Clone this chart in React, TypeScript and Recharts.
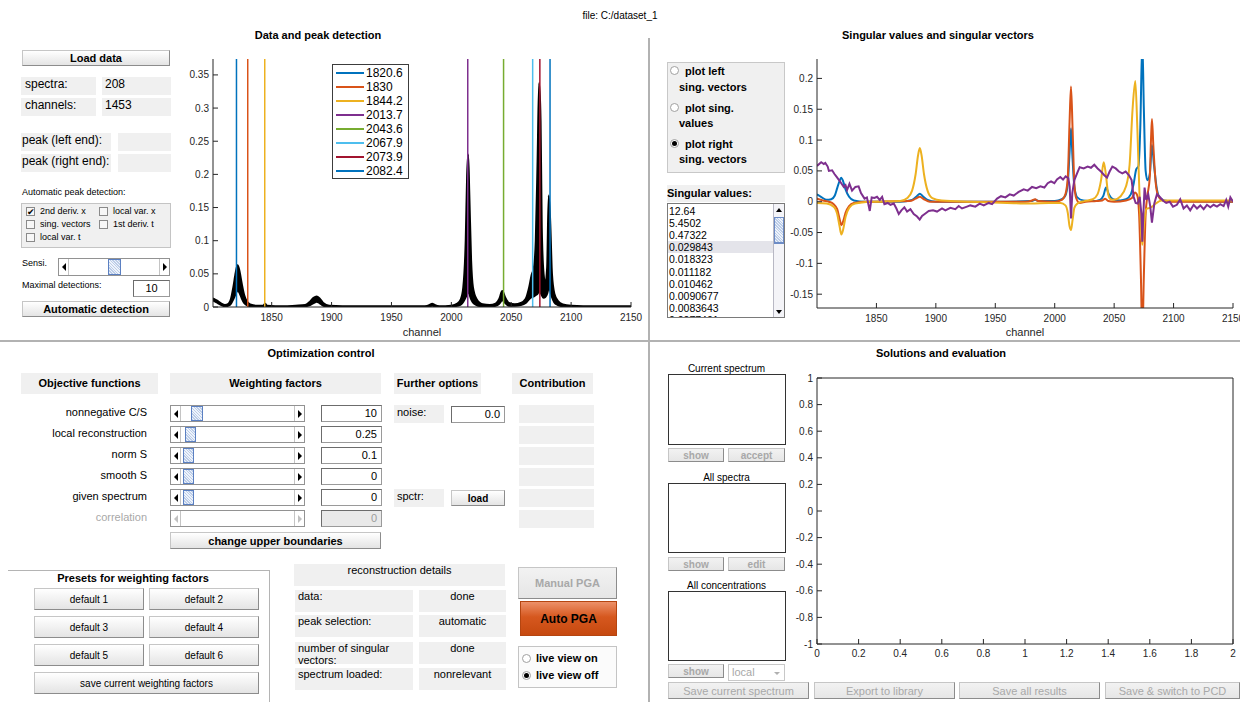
import React from "react";
import { ComposedChart, LineChart, Line, Area, XAxis, YAxis, Legend } from "recharts";

const FONT = '"Liberation Sans", Arial, Helvetica, sans-serif';
const AX = "#262626";

// ---------- Data and peak detection ----------
const channelTicks = [1850, 1900, 1950, 2000, 2050, 2100, 2150];
const intensityTicks = [0, 0.05, 0.1, 0.15, 0.2, 0.25, 0.3, 0.35];
const intensityMax = 0.374;
// [channel, lowest spectrum, highest spectrum]
const spectrumBand: [number, number, number][] = [
  [1801, 0.01, 0.013], [1804, 0.007, 0.01], [1808, 0.003, 0.005], [1811, 0.001, 0.003], [1814, 0.002, 0.005],
  [1816, 0.005, 0.012], [1818, 0.012, 0.03], [1820, 0.02, 0.052], [1821.5, 0.025, 0.063], [1823, 0.022, 0.055],
  [1825, 0.013, 0.035], [1827, 0.006, 0.018], [1829, 0.003, 0.009], [1832, 0.001, 0.004], [1838, 0, 0.002],
  [1843, 0, 0.002], [1844.5, 0.002, 0.005], [1846, 0, 0.002], [1860, 0, 0.001], [1870, 0, 0.002],
  [1878, 0.001, 0.003], [1882, 0.003, 0.008], [1885, 0.006, 0.014], [1887.5, 0.008, 0.016], [1890, 0.006, 0.013],
  [1893, 0.002, 0.006], [1898, 0, 0.002], [1920, 0, 0.001], [1950, 0, 0.001], [1978, 0, 0.001],
  [1982, 0.001, 0.003], [1984, 0.002, 0.005], [1986, 0.001, 0.003], [1990, 0, 0.001], [2000, 0, 0.002],
  [2005, 0.002, 0.005], [2008, 0.004, 0.012], [2010, 0.008, 0.03], [2012, 0.015, 0.1], [2013.2, 0.02, 0.2],
  [2014, 0.025, 0.23], [2015, 0.02, 0.17], [2016.5, 0.012, 0.07], [2018, 0.007, 0.03], [2021, 0.003, 0.012],
  [2026, 0.001, 0.004], [2032, 0.001, 0.003], [2037, 0.002, 0.005], [2040, 0.005, 0.012], [2042.5, 0.01, 0.024],
  [2045, 0.006, 0.014], [2048, 0.002, 0.006], [2053, 0.002, 0.004], [2058, 0.003, 0.006], [2062, 0.006, 0.012],
  [2065, 0.012, 0.03], [2067, 0.015, 0.048], [2069, 0.016, 0.06], [2070.5, 0.018, 0.1], [2072, 0.02, 0.22],
  [2073.3, 0.025, 0.338], [2074.5, 0.022, 0.28], [2075.5, 0.018, 0.12], [2077, 0.014, 0.05], [2078.5, 0.015, 0.035],
  [2080, 0.02, 0.06], [2081.3, 0.028, 0.168], [2082.5, 0.025, 0.13], [2084, 0.015, 0.05], [2086, 0.007, 0.02],
  [2089, 0.003, 0.009], [2093, 0.001, 0.004], [2100, 0, 0.002], [2120, 0, 0.001], [2150, 0, 0.001],
];
const peakPositions = [1820.6, 1830, 1844.2, 2013.7, 2043.6, 2067.9, 2073.9, 2082.4];
const peakColors = ["#0072BD", "#D95319", "#EDB120", "#7E2F8E", "#77AC30", "#4DBEEE", "#A2142F", "#0072BD"];

// ---------- Singular values and singular vectors ----------
const svTicks = [-0.15, -0.1, -0.05, 0, 0.05, 0.1, 0.15, 0.2];
const svDomain: [number, number] = [-0.1724, 0.2315];
const sv1: [number, number][] = [
  [1800, 0.012], [1804, 0.007], [1808, 0.003], [1812, 0.004], [1815, 0.01], [1817, 0.022], [1819, 0.034],
  [1820.3, 0.039], [1822, 0.033], [1824, 0.02], [1827, 0.008], [1831, 0.002], [1840, 0], [1870, 0], [1880, 0.003],
  [1884, 0.009], [1886.5, 0.013], [1889, 0.009], [1893, 0.003], [1900, 0], [1950, 0], [1980, 0.001], [1983.5, 0.003],
  [1987, 0.001], [2000, 0.001], [2006, 0.004], [2009, 0.01], [2011, 0.03], [2012.5, 0.08], [2013.7, 0.119],
  [2015, 0.07], [2016.5, 0.025], [2019, 0.007], [2024, 0.002], [2032, 0.001], [2038, 0.003], [2041, 0.01],
  [2043.2, 0.023], [2045.5, 0.012], [2049, 0.004], [2055, 0.002], [2060, 0.004], [2064, 0.012], [2066.5, 0.03],
  [2068.5, 0.052], [2070.5, 0.058], [2072, 0.12], [2073.7, 0.26], [2075, 0.15], [2076.5, 0.05], [2078, 0.035],
  [2080, 0.045], [2081.8, 0.092], [2083.5, 0.06], [2086, 0.02], [2089, 0.005], [2095, 0.001], [2150, 0],
];
const sv2: [number, number][] = [
  [1800, 0.005], [1805, 0.002], [1810, 0], [1814, -0.004], [1817, -0.012], [1819, -0.028], [1820.5, -0.038],
  [1822, -0.032], [1824, -0.018], [1827, -0.007], [1831, -0.002], [1840, 0], [1878, 0.001], [1883, 0.005],
  [1886.5, 0.008], [1890, 0.004], [1895, 0], [1975, 0], [1981, 0.002], [1983.5, 0.004], [1986, 0.001], [2000, 0],
  [2006, 0.003], [2009, 0.012], [2011, 0.04], [2012.5, 0.13], [2013.7, 0.187], [2015, 0.12], [2016.5, 0.03],
  [2018, 0.006], [2021, -0.002], [2026, 0], [2035, 0.001], [2040, 0.002], [2042.5, 0.005], [2045, 0.001],
  [2050, 0], [2060, 0.002], [2065, 0.006], [2067.5, 0.015], [2069.5, 0.01], [2071, -0.02], [2072.5, -0.12],
  [2073.7, -0.22], [2075, -0.12], [2076.5, -0.02], [2078, 0.01], [2080, 0.04], [2081, 0.1], [2081.8, 0.134],
  [2083, 0.09], [2085, 0.03], [2087, 0.01], [2090, 0.003], [2095, 0], [2150, 0],
];
const sv3: [number, number][] = [
  [1800, -0.002], [1808, -0.003], [1814, -0.008], [1817, -0.02], [1819, -0.04], [1820.5, -0.053], [1822, -0.045],
  [1824, -0.025], [1827, -0.01], [1832, -0.003], [1845, 0], [1870, 0.001], [1876, 0.006], [1880, 0.018],
  [1883, 0.045], [1885, 0.075], [1886.5, 0.087], [1888, 0.075], [1890, 0.045], [1893, 0.018], [1897, 0.006],
  [1905, 0.002], [1930, 0], [1960, -0.002], [1980, -0.003], [1995, -0.002], [2005, -0.002], [2009, -0.006],
  [2011, -0.018], [2012.5, -0.04], [2013.7, -0.046], [2015, -0.03], [2016.5, -0.01], [2019, -0.003], [2025, 0.001],
  [2032, 0.004], [2036, 0.012], [2039, 0.035], [2041.2, 0.064], [2043, 0.045], [2045, 0.012], [2047, 0.004],
  [2050, 0.003], [2055, 0.008], [2060, 0.025], [2063, 0.06], [2065.5, 0.15], [2067.8, 0.196], [2069.5, 0.12],
  [2071, 0.03], [2072.5, -0.04], [2073.7, -0.07], [2075, -0.04], [2077, -0.012], [2080, -0.01], [2082, -0.008],
  [2085, -0.003], [2090, 0.002], [2100, 0.002], [2150, 0.002],
];
const sv4: [number, number][] = [
  [1800, 0.058], [1803.5, 0.064], [1805.7, 0.061], [1807, 0.063], [1809, 0.057], [1810, 0.05], [1812.7, 0.051],
  [1814.7, 0.045], [1817, 0.039], [1819.7, 0.032], [1822.5, 0.024], [1824, 0.027], [1825.3, 0.019], [1827.3, 0.029],
  [1829.5, 0.018], [1832.3, 0.024], [1835, 0.025], [1837, 0.014], [1840, 0.005], [1842, 0.007], [1844.4, -0.015],
  [1846, 0.007], [1848.3, 0.006], [1850.5, 0.008], [1852.8, 0.003], [1854.8, 0.008], [1856.7, -0.004],
  [1859.5, -0.002], [1861.8, -0.005], [1864.6, -0.003], [1866.8, -0.011], [1868.8, -0.02], [1871, -0.014],
  [1873.5, -0.009], [1875.8, -0.016], [1878.6, -0.012], [1881.4, -0.02], [1884.2, -0.024], [1886.4, -0.029],
  [1888.4, -0.023], [1891.2, -0.019], [1894, -0.015], [1897.6, -0.014], [1901, -0.016], [1905.2, -0.011],
  [1908, -0.014], [1912.2, -0.01], [1916.4, -0.012], [1919.2, -0.007], [1922, -0.011], [1926.2, -0.008],
  [1929, -0.006], [1933.2, -0.008], [1936.9, -0.003], [1940.3, -0.006], [1944.5, -0.002], [1947.3, -0.004],
  [1951.5, 0.005], [1954.8, 0.009], [1958.5, 0.007], [1962.1, 0.012], [1965.5, 0.01], [1969.7, 0.016],
  [1973.9, 0.02], [1977.3, 0.018], [1980.9, 0.024], [1984.5, 0.022], [1987.9, 0.025], [1991.3, 0.023],
  [1994.1, 0.03], [1996.9, 0.033], [1999.7, 0.03], [2001.9, 0.036], [2004.7, 0.04], [2007, 0.036], [2009.2, 0.041],
  [2011.5, 0.038], [2012.6, 0.024], [2013.7, -0.027], [2014.8, 0.014], [2016.5, 0.035], [2018.8, 0.046],
  [2021, 0.056], [2024.4, 0.054], [2027.7, 0.057], [2030.5, 0.055], [2033.3, 0.06], [2036.1, 0.054],
  [2038.9, 0.049], [2041.7, 0.043], [2044, 0.039], [2046.2, 0.049], [2048.5, 0.057], [2051.3, 0.054],
  [2054, 0.049], [2056.9, 0.046], [2059.7, 0.049], [2062.5, 0.043], [2064.7, 0.035], [2066.4, 0.008],
  [2068.1, -0.002], [2069.8, -0.003], [2071.5, 0.008], [2072.9, -0.019], [2073.7, -0.065], [2074.5, -0.024],
  [2075.6, 0.023], [2077, 0.003], [2078.7, 0.012], [2080.4, -0.008], [2081.8, -0.034], [2083.8, -0.003],
  [2086, 0.012], [2088.3, 0.008], [2091, 0.002], [2093.8, -0.002], [2096.7, 0], [2099.5, -0.008], [2102.8, -0.005],
  [2105.6, 0.004], [2108.4, -0.011], [2111.2, -0.006], [2114, -0.014], [2116.9, -0.005], [2119.7, -0.011],
  [2122.5, -0.006], [2125.3, -0.012], [2128.1, -0.005], [2130.9, -0.009], [2133.7, -0.005], [2136.5, -0.008],
  [2139.3, -0.004], [2142.1, -0.007], [2144.3, 0.003], [2146, -0.008], [2147.8, 0.007], [2149.4, 0.002], [2150, 0],
];
const svColors = ["#0072BD", "#D95319", "#EDB120", "#7E2F8E"];
const singularValues = ["12.64", "5.4502", "0.47322", "0.029843", "0.018323", "0.011182", "0.010462", "0.0090677", "0.0083643", "0.0077401"];

// ---------- Solutions and evaluation ----------
const evalXTicks = [0, 0.2, 0.4, 0.6, 0.8, 1, 1.2, 1.4, 1.6, 1.8, 2];
const evalYTicks = [-1, -0.8, -0.6, -0.4, -0.2, 0, 0.2, 0.4, 0.6, 0.8, 1];

// ---------- Optimization control ----------
const objectiveNames = ["nonnegative C/S", "local reconstruction", "norm S", "smooth S", "given spectrum", "correlation"];
const weightValues = ["10", "0.25", "0.1", "0", "0", "0"];
const reconLabels = ["data:", "peak selection:", "number of singular vectors:", "spectrum loaded:"];
const reconStates = ["done", "automatic", "done", "nonrelevant"];

const tickStyle = { fontSize: 10, fill: AX, fontFamily: FONT };

const abs = (x: number, y: number, w: number, h: number): React.CSSProperties => ({
  position: "absolute", left: x, top: y, width: w, height: h, boxSizing: "border-box",
});

function Lbl({ x, y, w, h, text = "", size = 11, align = "left", bold = false, color = "#000", bg = "#f0f0f0", lh, pad = 3, nowrap = false }: any) {
  return (
    <div style={{ ...abs(x, y, w, h), background: bg, fontSize: size, fontWeight: bold ? 700 : 400, color, textAlign: align,
      padding: `0 ${pad}px`, lineHeight: `${lh ?? size + 3}px`, overflow: "hidden", whiteSpace: nowrap ? "nowrap" : "normal" }}>{text}</div>
  );
}

function Txt({ x, y, w, text, size = 11, bold = false, align = "left", color = "#000" }: any) {
  return (
    <div style={{ position: "absolute", left: x, top: y, width: w, fontSize: size, fontWeight: bold ? 700 : 400, color,
      textAlign: align, whiteSpace: "nowrap", lineHeight: `${size + 3}px` }}>{text}</div>
  );
}

function Btn({ x, y, w, h, text, bold = false, size = 11, disabled = false }: any) {
  return (
    <div style={{ ...abs(x, y, w, h), background: disabled ? "linear-gradient(#f2f2f2, #e6e6e6)" : "linear-gradient(#ffffff, #e4e4e4)",
      border: "1px solid #c6c6c6", borderRightColor: "#8c8c8c", borderBottomColor: "#8c8c8c", fontSize: size,
      fontWeight: bold ? 700 : 400, color: disabled ? "#a8a8a8" : "#000", display: "flex", alignItems: "center",
      justifyContent: "center", whiteSpace: "nowrap", overflow: "hidden" }}>{text}</div>
  );
}

function Edit({ x, y, w, h, value, disabled = false, align = "right" }: any) {
  return (
    <div style={{ ...abs(x, y, w, h), background: disabled ? "#e9e9e9" : "#fff", border: "1px solid #9a9a9a",
      borderTopColor: "#6c6c6c", borderLeftColor: "#6c6c6c", fontSize: 11, textAlign: align, padding: "0 4px",
      lineHeight: `${h - 2}px`, color: disabled ? "#9c9c9c" : "#000" }}>{value}</div>
  );
}

function Tri({ dir, color }: { dir: "l" | "r"; color: string }) {
  return (
    <div style={{ width: 0, height: 0, borderTop: "4px solid transparent", borderBottom: "4px solid transparent",
      ...(dir === "l" ? { borderRight: `4px solid ${color}` } : { borderLeft: `4px solid ${color}` }) }} />
  );
}

function Slider({ x, y, w, h, thumbX = 0, thumbW = 12, disabled = false }: any) {
  const c = disabled ? "#c0c0c0" : "#000";
  return (
    <div style={{ ...abs(x, y, w, h), background: "#fff", border: "1px solid #929292" }}>
      <div style={{ ...abs(0, 0, 10, h - 2), borderRight: "1px solid #c4c4c4", display: "flex", alignItems: "center", justifyContent: "center" }}>
        <Tri dir="l" color={c} />
      </div>
      <div style={{ ...abs(w - 12, 0, 10, h - 2), borderLeft: "1px solid #c4c4c4", display: "flex", alignItems: "center", justifyContent: "center" }}>
        <Tri dir="r" color={c} />
      </div>
      {!disabled && (
        <div style={{ ...abs(thumbX, 0, thumbW, h - 2), border: "1px solid #5b80c2",
          background: "repeating-linear-gradient(45deg, #bccde8 0px, #bccde8 1px, #eef3fb 1px, #eef3fb 2px)" }} />
      )}
    </div>
  );
}

function Check({ x, y, text, checked = false }: any) {
  return (
    <div style={{ position: "absolute", left: x, top: y, height: 10, display: "flex", alignItems: "center", fontSize: 9, whiteSpace: "nowrap" }}>
      <div style={{ width: 9, height: 9, border: "1px solid #8a8a8a", background: "#f7f7f7", boxSizing: "border-box",
        marginRight: 5, fontSize: 9, lineHeight: "8px", textAlign: "center", overflow: "visible" }}>{checked ? "✔" : ""}</div>
      {text}
    </div>
  );
}

function RadioDot({ x, y, on = false }: any) {
  return (
    <div style={{ ...abs(x, y, 9, 9), borderRadius: "50%", border: "1px solid #a0a0a0", background: "#fff",
      display: "flex", alignItems: "center", justifyContent: "center" }}>
      {on && <div style={{ width: 5, height: 5, borderRadius: "50%", background: "#000" }} />}
    </div>
  );
}

function PeakLegend() {
  return (
    <div style={{ width: 77, height: 115, border: "1px solid #3c3c3c", background: "#fff", boxSizing: "border-box", padding: "1px 0 0 3px", fontFamily: FONT }}>
      {peakPositions.map((p, i) => (
        <div key={i} style={{ display: "flex", alignItems: "center", height: 14, fontSize: 12, color: "#000" }}>
          <span style={{ display: "inline-block", width: 28, height: 2, background: peakColors[i], marginRight: 2 }} />
          <span>{String(p)}</span>
        </div>
      ))}
    </div>
  );
}

function PeakChart() {
  const rows = spectrumBand.map(([ch, lo, hi]) => ({ ch, band: [lo, hi] }));
  return (
    <div style={{ position: "absolute", left: 170, top: 50 }}>
      <ComposedChart width={478} height={292} data={rows} margin={{ top: 9, right: 17, left: 0, bottom: 0 }}>
        <XAxis type="number" dataKey="ch" domain={[1801, 2150]} allowDataOverflow ticks={channelTicks} interval={0}
          tickSize={-5} tickMargin={12} height={35} stroke={AX} tick={tickStyle}
          label={{ value: "channel", position: "insideBottom", offset: 6, fill: AX, fontSize: 11 }} />
        <XAxis xAxisId="t" orientation="top" type="number" domain={[1801, 2150]} allowDataOverflow ticks={channelTicks}
          interval={0} tickSize={-5} height={0} tick={false} stroke={AX} />
        <YAxis type="number" domain={[0, intensityMax]} allowDataOverflow ticks={intensityTicks} interval={0}
          tickSize={-5} tickMargin={9} width={43} stroke={AX} tick={tickStyle} />
        <YAxis yAxisId="r" orientation="right" type="number" domain={[0, intensityMax]} allowDataOverflow
          ticks={intensityTicks} interval={0} tickSize={-5} width={0} tick={false} stroke={AX} />
        {peakPositions.map((p, i) => (
          <Line key={i} data={[{ ch: p, y: 0 }, { ch: p, y: intensityMax }]} dataKey="y" stroke={peakColors[i]}
            strokeWidth={1.5} dot={false} isAnimationActive={false} name={String(p)} />
        ))}
        <Area dataKey="band" type="monotone" stroke="#000" strokeWidth={2} fill="#000" fillOpacity={1}
          isAnimationActive={false} legendType="none" />
        <Legend layout="vertical" align="center" verticalAlign="middle" content={() => <PeakLegend />}
          wrapperStyle={{ left: 162, top: 14, width: 77, height: 115 }} />
      </ComposedChart>
    </div>
  );
}

function SingularChart() {
  const series = [sv1, sv2, sv3, sv4];
  return (
    <div style={{ position: "absolute", left: 780, top: 50 }}>
      <LineChart width={460} height={292} margin={{ top: 9, right: 7, left: 0, bottom: 0 }}>
        <XAxis type="number" dataKey="ch" domain={[1800, 2150]} allowDataOverflow ticks={channelTicks} interval={0}
          tickSize={-5} tickMargin={12} height={34} stroke={AX} tick={tickStyle}
          label={{ value: "channel", position: "insideBottom", offset: 6, fill: AX, fontSize: 11 }} />
        <XAxis xAxisId="t" orientation="top" type="number" domain={[1800, 2150]} allowDataOverflow ticks={channelTicks}
          interval={0} tickSize={-5} height={0} tick={false} stroke={AX} />
        <YAxis type="number" domain={svDomain} allowDataOverflow ticks={svTicks} interval={0}
          tickSize={-5} tickMargin={9} width={37} stroke={AX} tick={tickStyle} />
        <YAxis yAxisId="r" orientation="right" type="number" domain={svDomain} allowDataOverflow ticks={svTicks}
          interval={0} tickSize={-5} width={0} tick={false} stroke={AX} />
        {series.map((s, i) => (
          <Line key={i} data={s.map(([ch, v]) => ({ ch, v }))} dataKey="v" type={i === 3 ? "linear" : "monotone"}
            stroke={svColors[i]} strokeWidth={2} dot={false} isAnimationActive={false} />
        ))}
      </LineChart>
    </div>
  );
}

// empty axes: one chart for the labelled bottom/left axes, one laid over it for the top/right box edges
function EvalChart() {
  const frame = evalXTicks.map((x) => ({ x }));
  return (
    <>
      <div style={{ position: "absolute", left: 780, top: 368 }}>
        <LineChart width={460} height={300} data={frame} margin={{ top: 10, right: 7, left: 0, bottom: 0 }}>
          <XAxis type="number" dataKey="x" domain={[0, 2]} allowDataOverflow ticks={evalXTicks} interval={0}
            tickSize={-5} tickMargin={11} height={24} stroke={AX} tick={tickStyle} />
          <YAxis type="number" domain={[-1, 1]} allowDataOverflow ticks={evalYTicks} interval={0}
            tickSize={-5} tickMargin={9} width={37} stroke={AX} tick={tickStyle} />
        </LineChart>
      </div>
      <div style={{ position: "absolute", left: 780, top: 368 }}>
        <LineChart width={460} height={300} data={frame} margin={{ top: 9, right: 6, left: 37, bottom: 24 }}>
          <XAxis orientation="top" type="number" dataKey="x" domain={[0, 2]} allowDataOverflow ticks={evalXTicks}
            interval={0} tickSize={-5} height={1} tick={false} stroke={AX} />
          <YAxis orientation="right" type="number" domain={[-1, 1]} allowDataOverflow ticks={evalYTicks}
            interval={0} tickSize={-5} width={1} tick={false} stroke={AX} />
        </LineChart>
      </div>
    </>
  );
}

const rowTops = [405, 426, 447, 468, 489, 510];
const thumbOffsets = [20, 14, 12, 12, 12];

export default function App() {
  return (
    <div style={{ position: "absolute", left: 0, top: 0, width: 1240, height: 702, background: "#fff", fontFamily: FONT, color: "#000", overflow: "hidden" }}>
      <Txt x={520} y={9} w={200} text="file: C:/dataset_1" size={10} align="center" />
      <div style={{ ...abs(648, 38, 2, 664), background: "#b2b2b2" }} />
      <div style={{ ...abs(0, 340, 1240, 2), background: "#b2b2b2" }} />

      {/* data and peak detection */}
      <Txt x={218} y={28} w={200} text="Data and peak detection" bold align="center" />
      <Btn x={22} y={50} w={148} h={16} text="Load data" bold />
      <Lbl x={21} y={77} w={75} h={18} text="spectra:" size={12} pad={4} />
      <Lbl x={102} y={77} w={69} h={18} text="208" size={12} />
      <Lbl x={21} y={98} w={75} h={18} text="channels:" size={12} pad={4} />
      <Lbl x={102} y={98} w={69} h={18} text="1453" size={12} />
      <Lbl x={21} y={133} w={90} h={18} text="peak (left end):" size={12} pad={1} />
      <Lbl x={118} y={133} w={53} h={18} />
      <Lbl x={21} y={154} w={90} h={18} text="peak (right end):" size={12} pad={1} />
      <Lbl x={118} y={154} w={53} h={18} />
      <Txt x={22} y={186} text="Automatic peak detection:" size={9} />
      <div style={{ ...abs(21, 203, 150, 45), background: "#f0f0f0", border: "1px solid #c4c4c4" }} />
      <Check x={26} y={206} text="2nd deriv. x" checked />
      <Check x={99} y={206} text="local var. x" />
      <Check x={26} y={219} text="sing. vectors" />
      <Check x={99} y={219} text="1st deriv. t" />
      <Check x={26} y={232} text="local var. t" />
      <Txt x={22} y={257} text="Sensi." size={9} />
      <Slider x={58} y={258} w={112} h={18} thumbX={49} thumbW={13} />
      <Txt x={22} y={279} text="Maximal detections:" size={9} />
      <Edit x={133} y={280} w={37} h={17} value="10" align="center" />
      <Btn x={22} y={301} w={148} h={16} text="Automatic detection" bold />
      <PeakChart />

      {/* singular values */}
      <Txt x={788} y={28} w={300} text="Singular values and singular vectors" bold align="center" />
      <div style={{ ...abs(667, 62, 118, 111), background: "#f0f0f0", border: "1px solid #c8c8c8" }} />
      <RadioDot x={670} y={66} />
      <Txt x={685} y={64} text="plot left" bold />
      <Txt x={679} y={80} text="sing. vectors" bold />
      <RadioDot x={670} y={103} />
      <Txt x={685} y={101} text="plot sing." bold />
      <Txt x={679} y={116} text="values" bold />
      <RadioDot x={670} y={139} on />
      <Txt x={685} y={137} text="plot right" bold />
      <Txt x={679} y={152} text="sing. vectors" bold />
      <Lbl x={667} y={185} w={118} h={17} text="Singular values:" bold pad={0} lh={17} />
      <div style={{ ...abs(667, 203, 118, 115), background: "#fff", border: "1px solid #7a7a7a", overflow: "hidden" }}>
        {singularValues.map((v, i) => (
          <div key={i} style={{ ...abs(0, 1 + i * 12.1, 105, 12.1), fontSize: 10.5, lineHeight: "12px", paddingLeft: 1,
            background: i === 3 ? "#e4e4ea" : "transparent" }}>{v}</div>
        ))}
        <div style={{ ...abs(105, 0, 11, 113), background: "#f4f4f8", borderLeft: "1px solid #b8b8c4" }}>
          <div style={{ ...abs(0, 0, 10, 11), display: "flex", alignItems: "center", justifyContent: "center" }}>
            <div style={{ width: 0, height: 0, borderLeft: "3px solid transparent", borderRight: "3px solid transparent", borderBottom: "4px solid #000" }} />
          </div>
          <div style={{ ...abs(0, 13, 10, 27), border: "1px solid #6d8cc6", borderBottomWidth: 2,
            background: "repeating-linear-gradient(45deg, #bccde8 0px, #bccde8 1px, #eef3fb 1px, #eef3fb 2px)" }} />
          <div style={{ ...abs(0, 102, 10, 11), display: "flex", alignItems: "center", justifyContent: "center" }}>
            <div style={{ width: 0, height: 0, borderLeft: "3px solid transparent", borderRight: "3px solid transparent", borderTop: "4px solid #000" }} />
          </div>
        </div>
      </div>
      <SingularChart />

      {/* optimization control */}
      <Txt x={221} y={346} w={200} text="Optimization control" bold align="center" />
      <Lbl x={21} y={373} w={137} h={21} text="Objective functions" bold align="center" lh={21} nowrap />
      <Lbl x={170} y={373} w={211} h={21} text="Weighting factors" bold align="center" lh={21} nowrap />
      <Lbl x={394} y={373} w={87} h={21} text="Further options" bold align="center" lh={21} pad={0} nowrap />
      <Lbl x={512} y={373} w={81} h={21} text="Contribution" bold align="center" lh={21} pad={0} nowrap />
      {objectiveNames.map((name, i) => (
        <React.Fragment key={i}>
          <div style={{ ...abs(10, rowTops[i], 137, 17), fontSize: 11, lineHeight: "15px", textAlign: "right", color: i === 5 ? "#a8a8a8" : "#000" }}>{name}</div>
          <Slider x={170} y={rowTops[i]} w={135} h={17} thumbX={thumbOffsets[i] ?? 0} thumbW={i === 0 ? 12 : 11} disabled={i === 5} />
          <Edit x={321} y={rowTops[i]} w={61} h={17} value={weightValues[i]} disabled={i === 5} />
          <Lbl x={519} y={rowTops[i]} w={75} h={18} />
        </React.Fragment>
      ))}
      <Lbl x={394} y={405} w={50} h={18} text="noise:" />
      <Edit x={451} y={406} w={54} h={17} value="0.0" />
      <Lbl x={394} y={489} w={50} h={18} text="spctr:" />
      <Btn x={451} y={490} w={54} h={16} text="load" bold size={10} />
      <Btn x={170} y={532} w={211} h={17} text="change upper boundaries" bold />

      {/* presets */}
      <div style={{ ...abs(8, 570, 262, 140), borderTop: "1px solid #b4b4b4", borderRight: "1px solid #b4b4b4" }} />
      <Txt x={33} y={571} w={200} text="Presets for weighting factors" bold align="center" />
      <Btn x={34} y={588} w={110} h={22} text="default 1" size={10} />
      <Btn x={149} y={588} w={110} h={22} text="default 2" size={10} />
      <Btn x={34} y={616} w={110} h={22} text="default 3" size={10} />
      <Btn x={149} y={616} w={110} h={22} text="default 4" size={10} />
      <Btn x={34} y={644} w={110} h={22} text="default 5" size={10} />
      <Btn x={149} y={644} w={110} h={22} text="default 6" size={10} />
      <Btn x={34} y={672} w={225} h={22} text="save current weighting factors" size={10} />

      {/* reconstruction details */}
      <Lbl x={294} y={564} w={211} h={22} text="reconstruction details" align="center" lh={12} />
      {reconLabels.map((t, i) => {
        const top = [590, 615, 642, 668][i];
        return (
          <React.Fragment key={i}>
            <Lbl x={295} y={top} w={118} h={22} text={t} lh={12} />
            <Lbl x={419} y={top} w={87} h={22} text={reconStates[i]} align="center" lh={12} />
          </React.Fragment>
        );
      })}
      <Btn x={518} y={567} w={99} h={32} text="Manual PGA" bold disabled />
      <div style={{ ...abs(520, 601, 97, 35), background: "linear-gradient(#ec9068, #d6581f 45%, #c6490f)", border: "1px solid #b54510",
        fontSize: 12, fontWeight: 700, display: "flex", alignItems: "center", justifyContent: "center" }}>Auto PGA</div>
      <div style={{ ...abs(518, 646, 99, 42), background: "#fbfbfb", border: "1px solid #c4c4c4" }} />
      <RadioDot x={522} y={654} />
      <Txt x={536} y={651} text="live view on" bold />
      <RadioDot x={522} y={671} on />
      <Txt x={536} y={668} text="live view off" bold />

      {/* solutions and evaluation */}
      <Txt x={841} y={346} w={200} text="Solutions and evaluation" bold align="center" />
      <Txt x={668} y={362} w={117} text="Current spectrum" size={10} align="center" />
      <div style={{ ...abs(668, 374, 118, 71), border: "1px solid #333" }} />
      <Btn x={668} y={448} w={56} h={14} text="show" size={10} bold disabled />
      <Btn x={728} y={448} w={57} h={14} text="accept" size={10} bold disabled />
      <Txt x={668} y={471} w={117} text="All spectra" size={10} align="center" />
      <div style={{ ...abs(668, 483, 118, 70), border: "1px solid #333" }} />
      <Btn x={668} y={557} w={56} h={14} text="show" size={10} bold disabled />
      <Btn x={728} y={557} w={57} h={14} text="edit" size={10} bold disabled />
      <Txt x={668} y={579} w={117} text="All concentrations" size={10} align="center" />
      <div style={{ ...abs(668, 591, 118, 70), border: "1px solid #333" }} />
      <Btn x={668} y={664} w={56} h={14} text="show" size={10} bold disabled />
      <div style={{ ...abs(728, 664, 57, 17), border: "1px solid #c8c8c8", background: "#fff", fontSize: 11, color: "#a8a8a8", lineHeight: "15px", paddingLeft: 3 }}>
        local
        <div style={{ position: "absolute", right: 4, top: 7, width: 0, height: 0, borderLeft: "3px solid transparent", borderRight: "3px solid transparent", borderTop: "3px solid #b0b0b0" }} />
      </div>
      <Btn x={668} y={682} w={141} h={17} text="Save current spectrum" disabled />
      <Btn x={814} y={682} w={141} h={17} text="Export to library" disabled />
      <Btn x={959} y={682} w={141} h={17} text="Save all results" disabled />
      <Btn x={1105} y={682} w={135} h={17} text="Save & switch to PCD" disabled />
      <EvalChart />
    </div>
  );
}
